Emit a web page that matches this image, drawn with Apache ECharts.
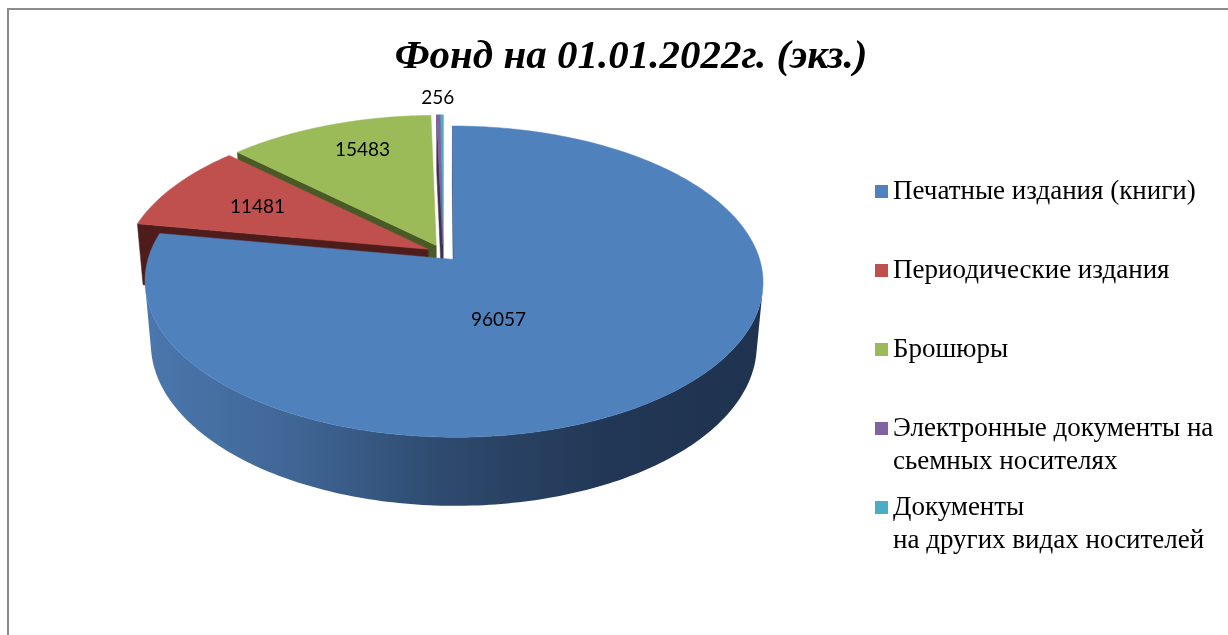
<!DOCTYPE html>
<html>
<head>
<meta charset="utf-8">
<title>Фонд на 01.01.2022г. (экз.)</title>
<script src="https://cdn.jsdelivr.net/npm/echarts@6/dist/echarts.min.js"></script>
<style>
  html, body { margin: 0; padding: 0; background: #fff; }
  #chart { width: 1228px; height: 635px; }
</style>
</head>
<body>
<div id="chart"></div>
<script>
// данные
const categories = [
  "Печатные издания (книги)",
  "Периодические издания",
  "Брошюры",
  "Электронные документы на\nсьемных носителях",
  "Документы\nна других видах носителей",
];
const values = [96057, 11481, 15483, 256, 200];
const showLabel = [true, true, true, true, false];

// оформление
const colors = ["#4F81BD", "#C0504D", "#9BBB59", "#8064A2", "#4BACC6"];
const wallColors = ["#2e4b71", "#4f1c1c", "#4a5a26", "#3e3052", "#23596b"];
const labelShift = [20, 0, 3, 0, 0]; // градусы
const labelRadius = [0.4, 0.66, 0.76, 1.15, 0.7];

// псевдо-3D проекция круга
const cx = 443, cy = 253;
const FK = 304;          // полуширина пирога на экране
const k = 0.1634;        // радиус / расстояние до камеры
const elev = 29.7 * Math.PI / 180;
const thick = 0.24;
const explode = 0.055;
const D = 1 / k, F = FK * D;
const rad = Math.PI / 180;
const cam = [0, D * Math.sin(elev), D * Math.cos(elev)];

const total = values.reduce((a, b) => a + b, 0);
const sweep = values.map(v => v / total * 360);
const start = [];
sweep.reduce((acc, s, i) => { start[i] = acc; return acc + s; }, 0);

function project(p) {
  const depth = D - p[1] * Math.sin(elev) - p[2] * Math.cos(elev);
  return [cx + F * p[0] / depth, cy - F * (p[1] * Math.cos(elev) - p[2] * Math.sin(elev)) / depth];
}
function facing(n, p) {
  return n[0] * (cam[0] - p[0]) + n[1] * (cam[1] - p[1]) + n[2] * (cam[2] - p[2]) > 0;
}

function renderSlice(i) {
  const a0 = start[i], a1 = start[i] + sweep[i];
  const mid = (a0 + a1) / 2;
  const ox = explode * Math.sin(mid * rad), oz = -explode * Math.cos(mid * rad);
  const rim = (deg, y, r) => [ox + (r || 1) * Math.sin(deg * rad), y, oz - (r || 1) * Math.cos(deg * rad)];
  const c0 = [ox, 0, oz], c1 = [ox, -thick, oz];
  const steps = Math.max(2, Math.ceil(a1 - a0));
  const angles = [];
  for (let j = 0; j <= steps; j++) angles.push(a0 + (a1 - a0) * j / steps);
  const children = [];

  // боковые срезы
  [[a0, a0 - 90], [a1, a1 + 90]].forEach(([a, na]) => {
    const n = [Math.sin(na * rad), 0, -Math.cos(na * rad)];
    const r0 = rim(a, 0), r1 = rim(a, -thick);
    const m = [(c0[0] + r0[0]) / 2, -thick / 2, (c0[2] + r0[2]) / 2];
    if (facing(n, m)) {
      children.push({
        type: "polygon",
        shape: { points: [project(c0), project(r0), project(r1), project(c1)] },
        style: { fill: wallColors[i], stroke: wallColors[i], lineWidth: 0.5 },
      });
    }
  });

  // внешняя стенка
  const top = [], bot = [];
  angles.forEach(a => {
    const n = [Math.sin(a * rad), 0, -Math.cos(a * rad)];
    if (facing(n, rim(a, -thick / 2))) {
      top.push(project(rim(a, 0)));
      bot.push(project(rim(a, -thick)));
    }
  });
  if (top.length > 1) {
    const fill = i === 0 ? {
      type: "linear", x: 146, y: 0, x2: 762, y2: 0, global: true,
      colorStops: [
        { offset: 0, color: "#4b77ad" },
        { offset: 0.25, color: "#3f6594" },
        { offset: 0.48, color: "#2e4a6e" },
        { offset: 0.75, color: "#223755" },
        { offset: 1, color: "#1f3350" },
      ],
    } : wallColors[i];
    children.push({
      type: "polygon",
      shape: { points: top.concat(bot.reverse()) },
      style: { fill: fill },
    });
  }

  // верхняя грань
  children.push({
    type: "polygon",
    shape: { points: [project(c0)].concat(angles.map(a => project(rim(a, 0)))) },
    style: { fill: colors[i], stroke: colors[i], lineWidth: 0.5 },
  });

  if (showLabel[i]) {
    const pt = project(rim(mid + labelShift[i], 0, labelRadius[i]));
    children.push({
      type: "text",
      style: {
        text: String(values[i]),
        x: pt[0], y: pt[1],
        fill: "#000",
        font: "19px Lato",
        align: "center", verticalAlign: "middle",
        textAlign: "center", textVerticalAlign: "middle",
      },
    });
  }
  return { type: "group", children: children };
}

// порядок отрисовки: дальние доли первыми
const nearness = values.map((v, i) => -Math.cos((start[i] + sweep[i] / 2) * rad));
const order = values.map((v, i) => i).sort((a, b) => nearness[a] - nearness[b]);

const chart = echarts.init(document.getElementById("chart"));
chart.setOption({
  animation: false,
  title: {
    text: "Фонд на 01.01.2022г. (экз.)",
    left: 626,
    top: 32,
    textAlign: "center",
    textStyle: {
      fontFamily: "Liberation Serif",
      fontStyle: "italic",
      fontWeight: "bold",
      fontSize: 41,
      color: "#000",
    },
  },
  legend: {
    orient: "vertical",
    left: 875,
    top: 142,
    padding: 0,
    itemWidth: 13,
    itemHeight: 13,
    itemGap: -20,
    icon: "rect",
    selectedMode: false,
    data: categories,
    formatter: name => (name.indexOf("\n") >= 0 ? "\n" + name : "\n" + name + "\n"),
    textStyle: {
      fontFamily: "Liberation Serif",
      fontSize: 27,
      lineHeight: 33,
      color: "#000",
    },
  },
  graphic: [
    {
      type: "rect",
      silent: true,
      shape: { x: 8, y: 9, width: 1400, height: 800 },
      style: { fill: "none", stroke: "#8c8c8c", lineWidth: 2 },
    },
  ],
  series: categories.map((name, i) => ({
    name: name,
    type: "custom",
    coordinateSystem: "none",
    z: 2 + order.indexOf(i),
    itemStyle: { color: colors[i] },
    data: [values[i]],
    renderItem: () => renderSlice(i),
  })),
});
</script>
</body>
</html>
